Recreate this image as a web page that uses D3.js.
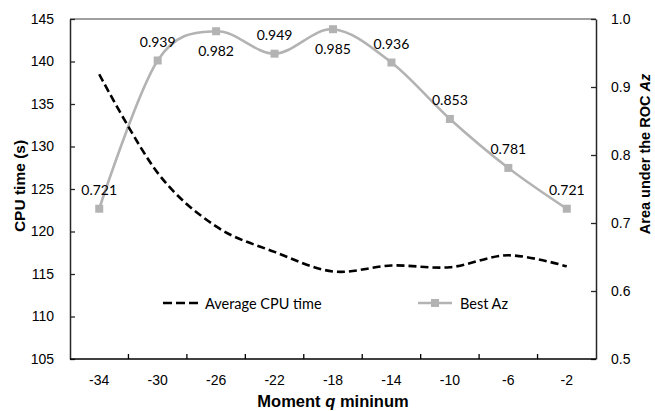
<!DOCTYPE html>
<html>
<head>
<meta charset="utf-8">
<script src="https://cdn.jsdelivr.net/npm/d3@7/dist/d3.min.js"></script>
<style>
  html, body { margin: 0; padding: 0; background: #fff; }
  svg { display: block; }
</style>
</head>
<body>
<div id="chart"></div>
<script>
// ---- data ----
const categories = ["-34", "-30", "-26", "-22", "-18", "-14", "-10", "-6", "-2"];
const avgCpuTime = [138.5, 126.9, 120.6, 117.6, 115.3, 116.0, 115.8, 117.2, 115.9];
const bestAz = [0.721, 0.939, 0.982, 0.949, 0.985, 0.936, 0.853, 0.781, 0.721];
const azLabelPos = ["above", "above", "below", "above", "below", "above", "above", "above", "above"];
const leftTicks = [105, 110, 115, 120, 125, 130, 135, 140, 145];
const rightTicks = [0.5, 0.6, 0.7, 0.8, 0.9, 1.0];
const seriesNames = ["Average CPU time", "Best Az"];

// ---- layout ----
const W = 655, H = 411;
const m = { left: 70, right: 59, top: 19, bottom: 52 };
const iw = W - m.left - m.right, ih = H - m.top - m.bottom;

const svg = d3.select("#chart").append("svg").attr("width", W).attr("height", H);
const g = svg.append("g").attr("transform", `translate(${m.left},${m.top})`);

const x = d3.scaleBand().domain(categories).range([0, iw]).padding(0);
const cx = c => x(c) + x.bandwidth() / 2;
const yL = d3.scaleLinear().domain([105, 145]).range([ih, 0]);
const yR = d3.scaleLinear().domain([0.5, 1.0]).range([ih, 0]);

const axisFont = "'Liberation Sans', Arial, sans-serif";
const labelFont = "Lato, 'Noto Sans', sans-serif";

// top border
g.append("line").attr("x1", 0).attr("x2", iw).attr("y1", 0).attr("y2", 0)
  .attr("stroke", "#808080").attr("stroke-width", 1.5);

// left axis
const axL = d3.axisLeft(yL).tickValues(leftTicks).tickSizeInner(-5).tickSizeOuter(0).tickPadding(16);
const gL = g.append("g").call(axL);
gL.select(".domain").attr("stroke", "#262626").attr("stroke-width", 1.5);
gL.selectAll(".tick line").attr("stroke", "#262626").attr("stroke-width", 1.3);
gL.selectAll(".tick text").attr("font-family", axisFont).attr("font-size", 14).attr("fill", "#000");

// right axis
const axR = d3.axisRight(yR).tickValues(rightTicks).tickFormat(d3.format(".1f"))
  .tickSizeInner(-5).tickSizeOuter(0).tickPadding(15);
const gR = g.append("g").attr("transform", `translate(${iw},0)`).call(axR);
gR.select(".domain").attr("stroke", "#262626").attr("stroke-width", 1.5);
gR.selectAll(".tick line").attr("stroke", "#262626").attr("stroke-width", 1.3);
gR.selectAll(".tick text").attr("font-family", axisFont).attr("font-size", 14).attr("fill", "#000");

// bottom axis
const gB = g.append("g").attr("transform", `translate(0,${ih})`);
gB.append("line").attr("x1", 0).attr("x2", iw).attr("stroke", "#000").attr("stroke-width", 1.5);
gB.selectAll("line.tk").data(categories.slice(1)).join("line").attr("class", "tk")
  .attr("x1", d => x(d)).attr("x2", d => x(d)).attr("y1", 0).attr("y2", -5)
  .attr("stroke", "#000").attr("stroke-width", 1.3);
gB.selectAll("text.tl").data(categories).join("text").attr("class", "tl")
  .attr("x", d => cx(d)).attr("y", 26).attr("text-anchor", "middle")
  .attr("font-family", axisFont).attr("font-size", 14).text(d => d);

// axis titles
svg.append("text").attr("transform", `translate(25,${m.top + ih / 2 - 3}) rotate(-90)`)
  .attr("text-anchor", "middle").attr("font-family", axisFont).attr("font-weight", "bold")
  .attr("font-size", 15.5).text("CPU  time (s)");

const rt = svg.append("text").attr("transform", `translate(650,154) rotate(-90)`)
  .attr("text-anchor", "middle").attr("font-family", axisFont).attr("font-weight", "bold")
  .attr("font-size", 14.5);
rt.append("tspan").text("Area under the ROC ");
rt.append("tspan").attr("font-style", "italic").text("Az");

const xt = svg.append("text").attr("x", m.left + iw / 2).attr("y", 407)
  .attr("text-anchor", "middle").attr("font-family", axisFont).attr("font-weight", "bold")
  .attr("font-size", 16.5);
xt.append("tspan").text("Moment ");
xt.append("tspan").attr("font-style", "italic").text("q");
xt.append("tspan").text(" mininum");

// series
const curve = d3.curveCatmullRom.alpha(0);
const lineL = d3.line().x((d, i) => cx(categories[i])).y(d => yL(d)).curve(curve);
const lineR = d3.line().x((d, i) => cx(categories[i])).y(d => yR(d)).curve(curve);

const grey = "#b3b3b3";
g.append("path").attr("d", lineR(bestAz)).attr("fill", "none")
  .attr("stroke", grey).attr("stroke-width", 2.6);
g.selectAll("rect.mk").data(bestAz).join("rect").attr("class", "mk")
  .attr("x", (d, i) => cx(categories[i]) - 4).attr("y", d => yR(d) - 4)
  .attr("width", 8).attr("height", 8).attr("fill", grey);

g.append("path").attr("d", lineL(avgCpuTime)).attr("fill", "none")
  .attr("stroke", "#000").attr("stroke-width", 2.6).attr("stroke-dasharray", "8,4");

// data labels
g.selectAll("text.dl").data(bestAz).join("text").attr("class", "dl")
  .attr("x", (d, i) => cx(categories[i]))
  .attr("y", (d, i) => yR(d) + (azLabelPos[i] === "above" ? -19 : 19))
  .attr("dominant-baseline", "central").attr("text-anchor", "middle")
  .attr("font-family", labelFont).attr("font-size", 14).attr("fill", "#000")
  .text(d => d3.format(".3f")(d));

// legend
const lg = svg.append("g");
lg.append("line").attr("x1", 163).attr("x2", 198).attr("y1", 303).attr("y2", 303)
  .attr("stroke", "#000").attr("stroke-width", 2.6).attr("stroke-dasharray", "9,4");
lg.append("text").attr("x", 205).attr("y", 303).attr("dominant-baseline", "central")
  .attr("font-family", labelFont).attr("font-size", 14.5).text(seriesNames[0]);
lg.append("line").attr("x1", 418).attr("x2", 452).attr("y1", 303).attr("y2", 303)
  .attr("stroke", grey).attr("stroke-width", 2.6);
lg.append("rect").attr("x", 431).attr("y", 299).attr("width", 8).attr("height", 8).attr("fill", grey);
lg.append("text").attr("x", 460).attr("y", 303).attr("dominant-baseline", "central")
  .attr("font-family", labelFont).attr("font-size", 14.5).text(seriesNames[1]);
</script>
</body>
</html>
